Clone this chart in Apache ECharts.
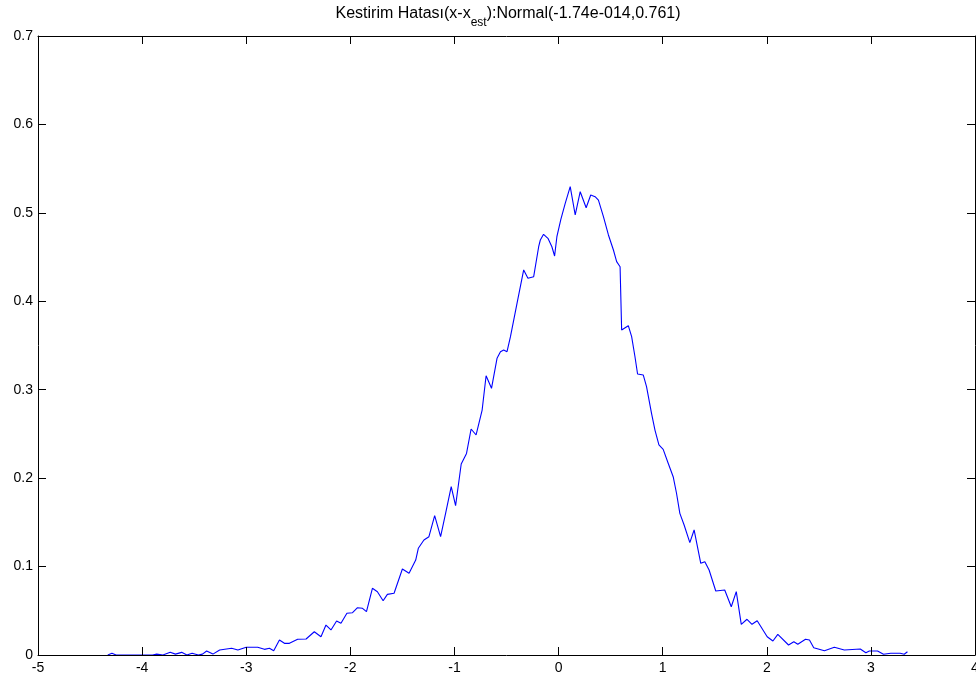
<!DOCTYPE html>
<html>
<head>
<meta charset="utf-8">
<script src="https://cdn.jsdelivr.net/npm/echarts@6/dist/echarts.min.js"></script>
<style>html,body{margin:0;padding:0;background:#fff;}#c{width:976px;height:681px;}</style>
</head>
<body>
<div id="c"></div>
<script>
// Estimated error density curve (x = error value, y = density)
const errX = [
  -4.33, -4.29, -4.25, -4.10, -3.95, -3.90, -3.86, -3.80, -3.73, -3.68, -3.62, -3.57, -3.52, -3.46, -3.42, -3.38, -3.32, -3.255,
  -3.14, -3.08, -3.00, -2.89, -2.825, -2.777, -2.736, -2.681, -2.633, -2.585, -2.506, -2.425, -2.346, -2.282, -2.234, -2.186,
  -2.132, -2.090, -2.033, -1.979, -1.931, -1.883, -1.845, -1.788, -1.740, -1.685, -1.644, -1.580, -1.500, -1.436, -1.372, -1.347,
  -1.293, -1.245, -1.190, -1.133, -1.085, -1.031, -0.989, -0.935, -0.884, -0.840, -0.792, -0.734, -0.696, -0.644, -0.591, -0.558,
  -0.527, -0.495, -0.462, -0.399, -0.335, -0.294, -0.239, -0.191, -0.175, -0.144, -0.102, -0.064, -0.038, -0.016, 0.022, 0.064,
  0.112, 0.160, 0.208, 0.265, 0.309, 0.351, 0.383, 0.431, 0.479, 0.527, 0.558, 0.591, 0.606, 0.670, 0.702, 0.734, 0.759, 0.814,
  0.845, 0.893, 0.926, 0.964, 1.005, 1.053, 1.101, 1.133, 1.165, 1.206, 1.261, 1.302, 1.366, 1.405, 1.446, 1.510, 1.596, 1.659,
  1.707, 1.755, 1.810, 1.858, 1.908, 2.004, 2.059, 2.106, 2.209, 2.260, 2.298, 2.372, 2.410, 2.451, 2.554, 2.649, 2.745, 2.898,
  2.952, 2.985, 3.064, 3.121, 3.191, 3.281, 3.320, 3.351
];
const errY = [
  0, 0.002, 0, 0, 0, 0, 0.001, 0, 0.003, 0.001, 0.003, 0, 0.002, 0, 0.001, 0.0045, 0.001, 0.0057,
  0.0076, 0.0057, 0.0087, 0.0087, 0.0064, 0.0076, 0.0049, 0.017, 0.0132, 0.0132, 0.0178, 0.0181, 0.0263, 0.0207, 0.0339, 0.0283,
  0.0384, 0.0358, 0.0472, 0.0478, 0.0535, 0.0528, 0.049, 0.0754, 0.0716, 0.0614, 0.0686, 0.0698, 0.0973, 0.0924, 0.1074, 0.1207,
  0.130, 0.1338, 0.1575, 0.1338, 0.1602, 0.1903, 0.1688, 0.216, 0.228, 0.2556, 0.2488, 0.277, 0.3158, 0.3016, 0.3355, 0.343,
  0.345, 0.343, 0.360, 0.3977, 0.4354, 0.426, 0.4278, 0.4617, 0.4693, 0.4757, 0.4712, 0.4617, 0.4512, 0.473, 0.4927, 0.5108,
  0.5296, 0.4976, 0.5239, 0.5058, 0.5202, 0.5183, 0.5145, 0.4957, 0.475, 0.458, 0.4448, 0.4391, 0.3675, 0.3724, 0.360, 0.3373, 0.3178, 0.3166,
  0.3034, 0.2733, 0.2544, 0.2375, 0.2326, 0.2168, 0.2016, 0.1829, 0.1602, 0.147, 0.127, 0.1414, 0.1037, 0.1055, 0.0961, 0.0724, 0.0735, 0.0546,
  0.0716, 0.0347, 0.0404, 0.0347, 0.0388, 0.0207, 0.0158, 0.0234, 0.0113, 0.015, 0.0121, 0.0178, 0.017, 0.0083, 0.0049, 0.0087, 0.0057, 0.0068,
  0.0026, 0.0045, 0.0045, 0.0008, 0.0019, 0.0019, 0.0008, 0.0037
];
const xTicks = [-5, -4, -3, -2, -1, 0, 1, 2, 3, 4];
const yTicks = [0, 0.1, 0.2, 0.3, 0.4, 0.5, 0.6, 0.7];
const titleMain = 'Kestirim Hatası(x-x';
const titleSub = 'est';
const titleRest = '):Normal(-1.74e-014,0.761)';

const FONT = 'Liberation Sans, Arial, sans-serif';
const chart = echarts.init(document.getElementById('c'), null, {renderer: 'canvas'});
const pts = errX.map((x, i) => [x, errY[i]]);
const axisLine = {show: true, onZero: false, lineStyle: {color: '#000', width: 1}};
const tickIn = {show: true, inside: true, length: 8, lineStyle: {color: '#000', width: 1}};
const xBase = {type: 'value', min: xTicks[0], max: xTicks[xTicks.length - 1], interval: 1,
  splitLine: {show: false}, axisLine: axisLine, axisTick: tickIn, z: 5};
const yBase = {type: 'value', min: yTicks[0], max: yTicks[yTicks.length - 1], interval: 0.1,
  splitLine: {show: false}, axisLine: axisLine, axisTick: tickIn, z: 5};
chart.setOption({
  animation: false,
  backgroundColor: '#fff',
  title: {
    text: '{n|' + titleMain + '}{s|' + titleSub + '}{n|' + titleRest + '}',
    left: 508, top: 5, padding: 0, textAlign: 'center',
    textStyle: {
      fontWeight: 'normal',
      rich: {
        n: {fontFamily: FONT, fontSize: 16, fontWeight: 'normal', color: '#000', height: 18, lineHeight: 18, verticalAlign: 'top'},
        s: {fontFamily: FONT, fontSize: 12, fontWeight: 'normal', color: '#000', height: 12, lineHeight: 18, padding: [12, 0, 0, 0], verticalAlign: 'top'}
      }
    }
  },
  grid: {left: 38, right: 1, top: 36, bottom: 26, containLabel: false, outerBoundsMode: 'none'},
  xAxis: [
    Object.assign({}, xBase, {position: 'bottom',
      axisLabel: {show: true, margin: 6, color: '#000', fontFamily: FONT, fontSize: 14, hideOverlap: false}}),
    Object.assign({}, xBase, {position: 'top', axisLabel: {show: false}})
  ],
  yAxis: [
    Object.assign({}, yBase, {position: 'left',
      axisLabel: {show: true, margin: 5, color: '#000', fontFamily: FONT, fontSize: 14}}),
    Object.assign({}, yBase, {position: 'right', axisLabel: {show: false}})
  ],
  series: [{
    type: 'line', data: pts, xAxisIndex: 0, yAxisIndex: 0,
    showSymbol: false, symbol: 'none',
    lineStyle: {color: '#0000ff', width: 1.1},
    z: 2
  }]
});
</script>
</body>
</html>
